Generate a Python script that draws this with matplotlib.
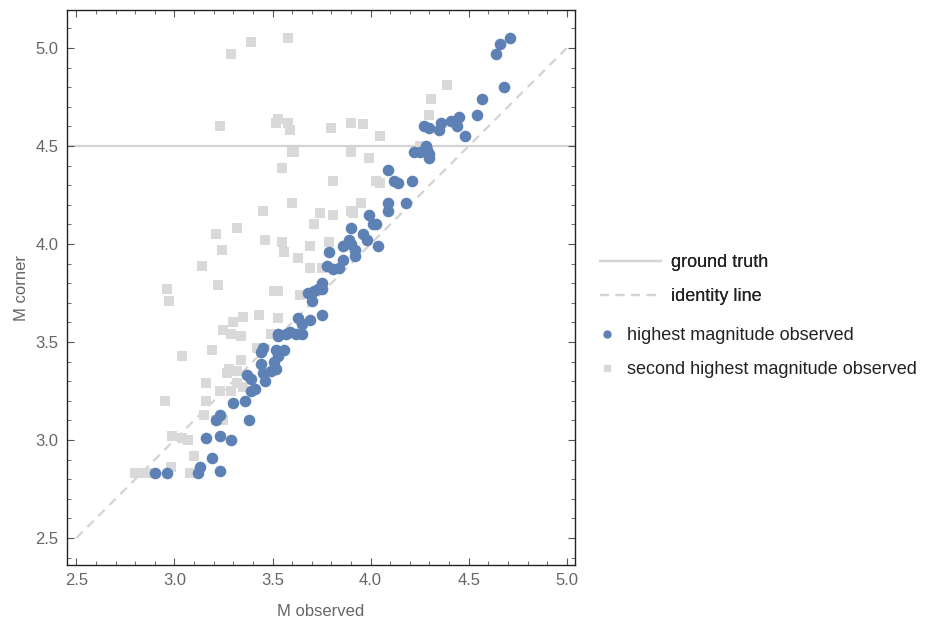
import matplotlib
matplotlib.use("Agg")
import matplotlib.pyplot as plt
from matplotlib.lines import Line2D
from matplotlib.ticker import MultipleLocator

plt.rcParams["font.family"] = ["Liberation Sans", "DejaVu Sans"]

# highest magnitude observed (blue circles)
highest_x = [4.71, 4.66, 4.64, 4.68, 4.57, 4.54, 4.45, 4.41, 4.36, 4.44,
             4.27, 4.30, 4.35, 4.48, 4.28, 4.29, 4.22, 4.25, 4.30, 4.30,
             4.09, 4.12, 4.14, 4.21, 4.09, 4.18, 4.09, 3.99, 4.03, 4.01,
             3.90, 3.96, 3.98, 4.04, 3.89, 3.86, 3.90, 3.92, 3.92, 3.79,
             3.86, 3.78, 3.81, 3.84, 3.75, 3.73, 3.75, 3.71, 3.68, 3.70,
             3.75, 3.69, 3.63, 3.65, 3.62, 3.59, 3.57, 3.53, 3.53, 3.65,
             3.45, 3.44, 3.52, 3.56, 3.53, 3.51, 3.44, 3.52, 3.49, 3.45,
             3.37, 3.39, 3.46, 3.41, 3.39, 3.30, 3.36, 3.21, 3.23, 3.38,
             3.16, 3.23, 3.29, 3.19, 3.13, 3.12, 3.23, 2.90, 2.96]
highest_y = [5.05, 5.02, 4.97, 4.80, 4.74, 4.66, 4.65, 4.63, 4.62, 4.60,
             4.60, 4.59, 4.58, 4.55, 4.50, 4.48, 4.47, 4.47, 4.46, 4.44,
             4.38, 4.32, 4.31, 4.32, 4.21, 4.21, 4.17, 4.15, 4.10, 4.10,
             4.08, 4.05, 4.02, 3.99, 4.02, 3.99, 4.00, 3.97, 3.94, 3.96,
             3.92, 3.89, 3.87, 3.88, 3.80, 3.77, 3.77, 3.76, 3.75, 3.71,
             3.64, 3.61, 3.62, 3.59, 3.54, 3.55, 3.54, 3.54, 3.53, 3.54,
             3.47, 3.45, 3.46, 3.46, 3.43, 3.40, 3.39, 3.36, 3.35, 3.34,
             3.33, 3.31, 3.30, 3.26, 3.25, 3.19, 3.20, 3.10, 3.13, 3.10,
             3.01, 3.02, 3.00, 2.91, 2.86, 2.83, 2.84, 2.83, 2.83]

# second highest magnitude observed (grey squares)
second_x = [3.29, 3.39, 3.58, 3.23, 3.53, 3.52, 3.58, 3.59, 3.60, 3.61,
            3.55, 3.80, 3.90, 3.96, 4.05, 3.90, 3.99, 3.81, 4.03, 4.05,
            4.39, 4.31, 4.30, 4.25, 3.95, 3.90, 3.45, 3.32, 3.21, 3.46,
            3.24, 3.14, 3.22, 2.96, 2.97, 3.60, 3.74, 3.71, 3.55, 3.56,
            3.69, 3.63, 3.69, 3.75, 3.81, 3.91, 3.79, 3.51, 3.53, 3.64,
            3.43, 3.35, 3.30, 3.53, 3.25, 3.29, 3.34, 3.49, 3.19, 3.04,
            3.42, 3.34, 3.28, 3.32, 3.27, 3.16, 3.23, 3.29, 3.32, 3.35,
            2.95, 3.16, 3.15, 3.21, 3.25, 2.99, 3.04, 3.07, 3.10, 2.98,
            2.80, 2.83, 2.86, 3.08]
second_y = [4.97, 5.03, 5.05, 4.60, 4.64, 4.62, 4.62, 4.58, 4.47, 4.47,
            4.39, 4.59, 4.62, 4.61, 4.55, 4.47, 4.44, 4.32, 4.32, 4.31,
            4.81, 4.74, 4.66, 4.50, 4.21, 4.17, 4.17, 4.08, 4.05, 4.02,
            3.97, 3.89, 3.79, 3.77, 3.71, 4.21, 4.16, 4.10, 4.01, 3.96,
            3.99, 3.93, 3.88, 3.88, 4.15, 4.16, 4.01, 3.76, 3.76, 3.74,
            3.64, 3.63, 3.60, 3.62, 3.56, 3.54, 3.53, 3.54, 3.46, 3.43,
            3.47, 3.41, 3.36, 3.35, 3.34, 3.29, 3.25, 3.25, 3.29, 3.27,
            3.20, 3.20, 3.13, 3.10, 3.10, 3.02, 3.01, 3.00, 2.92, 2.86,
            2.83, 2.83, 2.83, 2.83]

ground_truth = 4.5
identity = [2.5, 5.0]

BLUE = "#5e81b5"
GREY = "#d9d9d9"
LINE_GREY = "#d3d3d3"
TEXT_GREY = "#666666"

fig = plt.figure(figsize=(9.25, 6.19), dpi=100)
ax = fig.add_axes([0.0724, 0.0872, 0.5492, 0.8966])

ax.axhline(ground_truth, color=LINE_GREY, lw=1.6, zorder=1)
ax.plot(identity, identity, color=LINE_GREY, lw=1.6, ls=(0, (4, 3)), zorder=1)
ax.scatter(second_x, second_y, marker="s", s=48, color=GREY, lw=0, zorder=2)
ax.scatter(highest_x, highest_y, marker="o", s=70, color=BLUE, lw=0, zorder=3)

ax.set_xlim(2.452, 5.042)
ax.set_ylim(2.362, 5.194)
ax.xaxis.set_major_locator(MultipleLocator(0.5))
ax.yaxis.set_major_locator(MultipleLocator(0.5))
ax.xaxis.set_minor_locator(MultipleLocator(0.1))
ax.yaxis.set_minor_locator(MultipleLocator(0.1))
ax.xaxis.set_major_formatter(lambda v, p: f"{v:.1f}")
ax.yaxis.set_major_formatter(lambda v, p: f"{v:.1f}")
ax.tick_params(which="both", direction="in", top=True, right=True,
               color="#555555", labelcolor=TEXT_GREY, labelsize=12)
ax.tick_params(which="major", length=5, width=0.8, pad=6)
ax.tick_params(which="minor", length=3, width=0.6)
for side in ax.spines.values():
    side.set_color("#222222")
    side.set_linewidth(1.0)

ax.set_xlabel("M observed", color=TEXT_GREY, fontsize=12, labelpad=11)
ax.set_ylabel("M corner", color=TEXT_GREY, fontsize=12, labelpad=5)

line_handles = [
    Line2D([], [], color=LINE_GREY, lw=1.6),
    Line2D([], [], color=LINE_GREY, lw=1.6, ls=(0, (4, 3))),
]
leg1 = fig.legend(line_handles, ["ground truth", "identity line"],
                  loc="upper left", bbox_to_anchor=(0.631, 0.6155),
                  frameon=False, fontsize=13, handlelength=3.4,
                  handletextpad=0.55, labelspacing=0.94, labelcolor="#222222")
marker_handles = [
    Line2D([], [], ls="", marker="o", ms=5, color=BLUE),
    Line2D([], [], ls="", marker="s", ms=5, color=GREY),
]
fig.legend(marker_handles, ["highest magnitude observed",
                            "second highest magnitude observed"],
           loc="upper left", bbox_to_anchor=(0.631, 0.4976),
           frameon=False, fontsize=13, handlelength=0.8,
           handletextpad=0.7, labelspacing=0.94, labelcolor="#222222")
fig.add_artist(leg1)

fig.savefig("out.png", dpi=100)
